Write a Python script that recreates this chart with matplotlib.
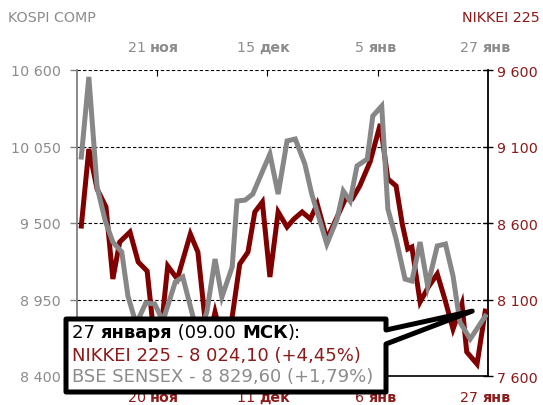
import matplotlib
matplotlib.use('Agg')
import matplotlib.pyplot as plt
from matplotlib.patches import Polygon
from matplotlib.offsetbox import TextArea, HPacker, AnnotationBbox
from matplotlib.transforms import blended_transform_factory
from matplotlib.ticker import FuncFormatter

# data (x = trading-day position on the axis)
kospi_x = [0.7, 1.8, 3.0, 4.2, 5.3, 6.6, 7.5, 8.7, 10.1, 11.4, 12.6, 14.4, 15.5, 17.0, 18.2,
           19.0, 20.2, 21.2, 22.7, 23.4, 24.6, 25.7, 28.2, 29.4, 30.7, 31.9, 33.3, 34.3, 35.5,
           36.5, 38.0, 38.9, 39.9, 40.9, 42.4, 43.2, 44.5, 45.4, 46.6, 47.9, 48.9, 50.1, 51.2,
           52.6, 53.8, 54.9, 55.9, 57.4, 59.6]
kospi = [9974, 10550, 9759, 9514, 9363, 9291, 8975, 8774, 8925, 8918, 8795, 9076, 9112, 8824, 8738,
         8860, 9241, 8968, 9184, 9658, 9665, 9708, 9996, 9708, 10090, 10104, 9924, 9708, 9514,
         9349, 9529, 9730, 9658, 9910, 9960, 10269, 10341, 9601, 9385, 9097, 9083, 9363, 9047,
         9335, 9349, 9119, 8788, 8666, 8830]

nikkei_x = [0.7, 1.8, 3.0, 4.3, 5.3, 6.3, 7.8, 9.0, 10.3, 11.2, 12.2, 13.3, 14.7, 16.6, 17.7,
            18.7, 19.5, 20.2, 21.2, 22.7, 23.8, 25.0, 26.0, 27.1, 28.2, 29.4, 30.7, 31.7, 32.9,
            34.1, 35.1, 36.5, 38.0, 39.2, 40.2, 41.3, 42.8, 44.3, 45.4, 46.6, 47.5, 48.3, 48.9,
            50.1, 51.3, 52.6, 53.7, 54.9, 56.2, 56.9, 58.4, 59.6]
nikkei = [8580, 9084, 8822, 8705, 8234, 8476, 8541, 8345, 8286, 7907, 7840, 8319, 8234, 8528, 8410,
          7986, 7874, 8018, 7842, 7986, 8332, 8410, 8672, 8737, 8247, 8672, 8574, 8626, 8672,
          8626, 8724, 8495, 8639, 8757, 8757, 8842, 8999, 9247, 8888, 8842, 8593, 8430, 8443,
          8084, 8182, 8267, 8103, 7907, 8071, 7757, 7678, 8024]

left_ticks = [8400, 8950, 9500, 10050, 10600]
right_ticks = [7600, 8100, 8600, 9100, 9600]

tick_pos = [11.74, 27.8, 44.0]
label_pos = [11.2, 27.3, 43.7, 59.6]
top_days = ['21', '15', '5', '27']
top_months = ['ноя', 'дек', 'янв', 'янв']
bottom_days = ['20', '11', '6', '27']
bottom_months = ['ноя', 'дек', 'янв', 'янв']

tip_x = 57.7
tip_value = 8024.10

GRAY = '#878787'
RED = '#800000'
RED_TXT = '#8b1a1a'

W, H = 543, 406
fig = plt.figure(figsize=(W / 100, H / 100), dpi=100)
ax = fig.add_axes([76.5 / W, 1 - 377 / H, 411.5 / W, 306 / H])
ax2 = ax.twinx()
ax.set_zorder(2)
ax.patch.set_visible(False)

fmt = FuncFormatter(lambda v, p: f'{int(round(v)):,}'.replace(',', ' '))

ax2.plot(nikkei_x, nikkei, color=RED, lw=3.6, solid_joinstyle='miter', zorder=3)
ax.plot(kospi_x, kospi, color=GRAY, lw=3.6, solid_joinstyle='miter', zorder=3)

ax.set_xlim(0, 60)
ax.set_ylim(8400, 10600)
ax2.set_ylim(7600, 9600)
ax.set_yticks(left_ticks)
ax2.set_yticks(right_ticks)
ax.yaxis.set_major_formatter(fmt)
ax2.yaxis.set_major_formatter(fmt)
ax2.grid(axis='y', color='black', lw=0.8, ls=(0, (3, 2)))
ax2.set_axisbelow(True)

for a in (ax, ax2):
    for s in a.spines.values():
        s.set_visible(False)
ax.spines['left'].set_visible(True)
ax.spines['left'].set_color('#808080')
ax.spines['left'].set_linewidth(1.3)
ax.spines['bottom'].set_visible(True)
ax.spines['bottom'].set_color('black')
ax.spines['bottom'].set_linewidth(1.2)
ax2.spines['right'].set_visible(True)
ax2.spines['right'].set_color('black')
ax2.spines['right'].set_linewidth(1.3)

ax.tick_params(axis='y', direction='out', length=5, width=1, color='#808080',
               labelcolor='#8c8c8c', labelsize=10.3, pad=6)
ax2.tick_params(axis='y', direction='inout', length=7, width=1, color='black',
                labelcolor=RED_TXT, labelsize=10.3, pad=3)
ax.set_xticks(tick_pos)
ax.tick_params(axis='x', top=True, bottom=False, labeltop=False, labelbottom=False,
               direction='in', length=4, width=0.8, color='black')

# date labels: number normal, month bold
trans = blended_transform_factory(ax.transData, fig.transFigure)
for days, months, yy, col in [(top_days, top_months, 1 - 48 / H, '#8c8c8c'),
                              (bottom_days, bottom_months, 1 - 398 / H, RED_TXT)]:
    for xp, d, m in zip(label_pos, days, months):
        hp = HPacker(children=[TextArea(d + ' ', textprops=dict(color=col, fontsize=10.3)),
                               TextArea(m, textprops=dict(color=col, fontsize=10.3, fontweight='bold'))],
                     pad=0, sep=0, align='baseline')
        ab = AnnotationBbox(hp, (xp, yy), xycoords=trans, frameon=False, box_alignment=(0.5, 0.5),
                            pad=0, annotation_clip=False, zorder=5)
        fig.add_artist(ab)

fig.text(8 / W, 1 - 18 / H, 'KOSPI COMP', color='#8c8c8c', fontsize=10.3, va='center', ha='left')
fig.text(540 / W, 1 - 18 / H, 'NIKKEI 225', color=RED_TXT, fontsize=10.3, va='center', ha='right')

# tooltip callout
tip = fig.transFigure.inverted().transform(ax2.transData.transform((tip_x, tip_value)))
def px(x, y):
    return (x / W, 1 - y / H)
verts = [px(66, 320), px(386, 320), px(386, 331), tuple(tip), px(386, 345), px(386, 393), px(66, 393)]
box = Polygon(verts, closed=True, transform=fig.transFigure, facecolor='white', edgecolor='black',
              lw=3.6, joinstyle='round', zorder=10)
fig.add_artist(box)

line1 = HPacker(children=[TextArea('27 ', textprops=dict(color='black', fontsize=13)),
                          TextArea('января', textprops=dict(color='black', fontsize=13, fontweight='bold')),
                          TextArea(' (09.00 ', textprops=dict(color='black', fontsize=13)),
                          TextArea('МСК', textprops=dict(color='black', fontsize=13, fontweight='bold')),
                          TextArea('):', textprops=dict(color='black', fontsize=13))],
                pad=0, sep=0, align='baseline')
fig.add_artist(AnnotationBbox(line1, px(72, 333), xycoords='figure fraction', frameon=False,
                              box_alignment=(0, 0.5), pad=0, annotation_clip=False, zorder=11))
fig.text(72 / W, 1 - 356 / H, 'NIKKEI 225 - 8 024,10 (+4,45%)', color=RED_TXT, fontsize=13,
         va='center', ha='left', zorder=11)
fig.text(72 / W, 1 - 377 / H, 'BSE SENSEX - 8 829,60 (+1,79%)', color='#8c8c8c', fontsize=13,
         va='center', ha='left', zorder=11)

fig.savefig('out.png', dpi=100)
